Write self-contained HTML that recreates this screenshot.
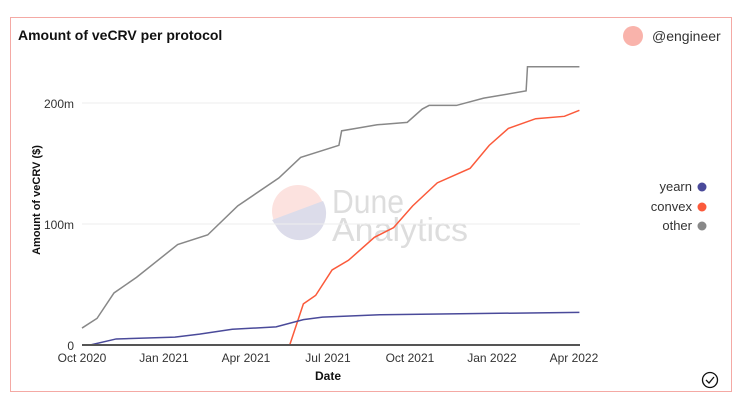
<!DOCTYPE html>
<html><head><meta charset="utf-8"><style>
body{margin:0;width:738px;height:405px;background:#fff;font-family:"Liberation Sans",sans-serif;overflow:hidden}
#card{position:absolute;left:10px;top:17px;width:722px;height:375px;border:1px solid #f4a9a4;box-sizing:border-box}
</style></head><body>
<div id="card"></div>
<svg id="chart" width="738" height="405" style="position:absolute;left:0;top:0">
<text x="18" y="40" font-size="14" font-weight="bold" fill="#111">Amount of veCRV per protocol</text>
<circle cx="633" cy="36" r="10" fill="#f9b3ab"/>
<text x="652" y="41" font-size="14" fill="#333">@engineer</text>
<g opacity="0.6">
<circle cx="298" cy="211" r="26" fill="#fbd0cb"/>
<path d="M272,220 L323,201 A26,26 0 0 1 276,226 Z" fill="#c5c6dd"/>
<text x="332" y="213" font-size="33" fill="#c8c8c8" textLength="72" lengthAdjust="spacingAndGlyphs">Dune</text>
<text x="332" y="241" font-size="33" fill="#c8c8c8" textLength="136" lengthAdjust="spacingAndGlyphs">Analytics</text>
</g>
<g id="grid"></g><g id="lines"></g><g id="axes"></g>
<text transform="translate(40,200) rotate(-90)" text-anchor="middle" font-size="11" font-weight="bold" fill="#111">Amount of veCRV ($)</text>
<text x="328" y="380" text-anchor="middle" font-size="12" font-weight="bold" fill="#111">Date</text>
<g font-size="13" fill="#333" text-anchor="end">
<g><text x="692" y="191">yearn</text><circle cx="702" cy="187" r="4.5" fill="#4a4a9a"/></g>
<g><text x="692" y="211">convex</text><circle cx="702" cy="207" r="4.5" fill="#fb5a3b"/></g>
<g><text x="692" y="230">other</text><circle cx="702" cy="226" r="4.5" fill="#888"/></g>
</g>
<g><circle cx="710" cy="380" r="7.5" fill="none" stroke="#111" stroke-width="1.3"/><path d="M706,380 l3,3 l5,-6" fill="none" stroke="#111" stroke-width="1.3"/></g>
</svg>
<script>
const xTickLabels=["Oct 2020","Jan 2021","Apr 2021","Jul 2021","Oct 2021","Jan 2022","Apr 2022"];
const yTicks=[0,100,200];
const otherMonths=[0,0.55,1.17,2.0,3.5,4.6,5.7,7.2,8.0,9.4,9.5,10.8,11.9,12.45,12.7,13.7,14.7,16.25,16.3,18.2];
const otherValues=[14,22,43,56,83,91,115,138,155,165,177,182,184,195,198,198,204,210,230,230];
const convexMonths=[7.6,8.1,8.55,9.15,9.75,10.7,11.4,12.1,13.0,14.2,14.9,15.6,16.6,17.65,18.2];
const convexValues=[0,34,41,62,70,89,97,115,134,146,165,179,187,189,194];
const yearnMonths=[0.3,1.25,3.4,4.3,5.5,7.1,8.1,8.8,10.9,18.2];
const yearnValues=[0,5,6.5,9,13,15,21,23,25,27];
const X=m=>82+m*27.33, Y=v=>345-v*1.21;
const NS="http://www.w3.org/2000/svg";
const g=document.getElementById('grid'),L=document.getElementById('lines'),A=document.getElementById('axes');
yTicks.forEach(v=>{
 const ln=document.createElementNS(NS,'line');
 ln.setAttribute('x1',82);ln.setAttribute('x2',580);ln.setAttribute('y1',Y(v));ln.setAttribute('y2',Y(v));
 ln.setAttribute('stroke',v===0?'#555':'#eee');ln.setAttribute('stroke-width',v===0?2:1);
 
 
 (v===0?A:g).appendChild(ln);
 const t=document.createElementNS(NS,'text');
 t.setAttribute('x',74);t.setAttribute('y',Y(v)+5);t.setAttribute('text-anchor','end');t.setAttribute('font-size','12');t.setAttribute('fill','#333');
 t.textContent=v===0?'0':v+'m';
 
 
 A.appendChild(t);
});
xTickLabels.forEach((s,i)=>{
 const t=document.createElementNS(NS,'text');
 t.setAttribute('x',X(i*3));t.setAttribute('y',362);t.setAttribute('text-anchor','middle');t.setAttribute('font-size','12');t.setAttribute('fill','#333');
 t.textContent=s;
 
 
 A.appendChild(t);
});
function line(ms,vs,c,name){
 const p=document.createElementNS(NS,'polyline');
 p.setAttribute('points',ms.map((m,i)=>X(m)+','+Y(vs[i])).join(' '));
 p.setAttribute('fill','none');p.setAttribute('stroke',c);p.setAttribute('stroke-width',1.5);
 
 
 L.appendChild(p);
}
line(otherMonths,otherValues,'#888','line-other');
line(convexMonths,convexValues,'#fb5a3b','line-convex');
line(yearnMonths,yearnValues,'#4a4a9a','line-yearn');
</script>
</body></html>
